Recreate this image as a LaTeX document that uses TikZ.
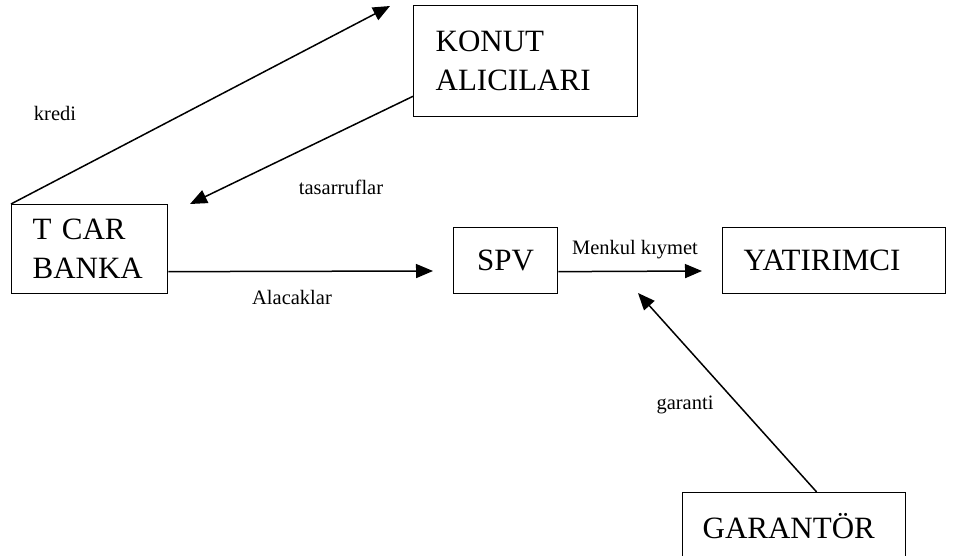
\documentclass[tikz,border=0pt]{standalone}
\usepackage{fontspec}
\setmainfont{Liberation Serif}
\usetikzlibrary{arrows.meta,calc}
\begin{document}
\begin{tikzpicture}[x=1pt,y=-1pt,
  box/.style={draw,line width=1.3pt,anchor=north west,inner ysep=0pt,
    font=\fontsize{31}{39}\selectfont,align=left},
  lbl/.style={font=\fontsize{20.5}{24}\selectfont,inner sep=0pt},
  arr/.style={line width=1.5pt,-{Triangle[length=17pt,width=14pt]}}]
\useasboundingbox (0,0) rectangle (965,556);
\node[box,minimum height=111pt,inner xsep=22pt,text width=180pt] (konut) at (413,5) {KONUT\\ALICILARI};
\node[box,minimum height=89pt,inner xsep=21pt,text width=114pt] (tcar) at (11,204) {T CAR\\BANKA};
\node[box,minimum height=66pt,minimum width=104pt,inner xsep=0pt,align=center] (spv) at (453,227) {SPV};
\node[box,minimum height=66pt,inner xsep=21pt,text width=181pt] (yat) at (722,227) {YATIRIMCI};
\node[box,minimum height=66pt,inner xsep=20pt,text width=183pt] (gar) at (682,492) {GARANTÖR};
\coordinate (kreditip) at (390,6);
\coordinate (tastip) at (190,204);
\coordinate (alatip) at (433,271);
\coordinate (mentip) at (702,271);
\coordinate (gartip) at (638,293);
\draw[arr] (tcar.north west) -- (kreditip);
\draw[arr] ([yshift=21pt]konut.south west) -- (tastip);
\draw[arr] ([yshift=-22.5pt]tcar.east) -- (alatip);
\draw[arr] ([yshift=-11pt]spv.east) -- (mentip);
\draw[arr] ([xshift=22.5pt]gar.north) -- (gartip);
\node[lbl] (lkredi) at (55,113) {kredi};
\node[lbl] (ltas) at (341,187) {tasarruflar};
\node[lbl] (lala) at (292,297) {Alacaklar};
\node[lbl] (lmen) at (635,250) {Menkul kıymet};
\node[lbl] (lgar) at (685,405) {garanti};
\end{tikzpicture}
\end{document}
